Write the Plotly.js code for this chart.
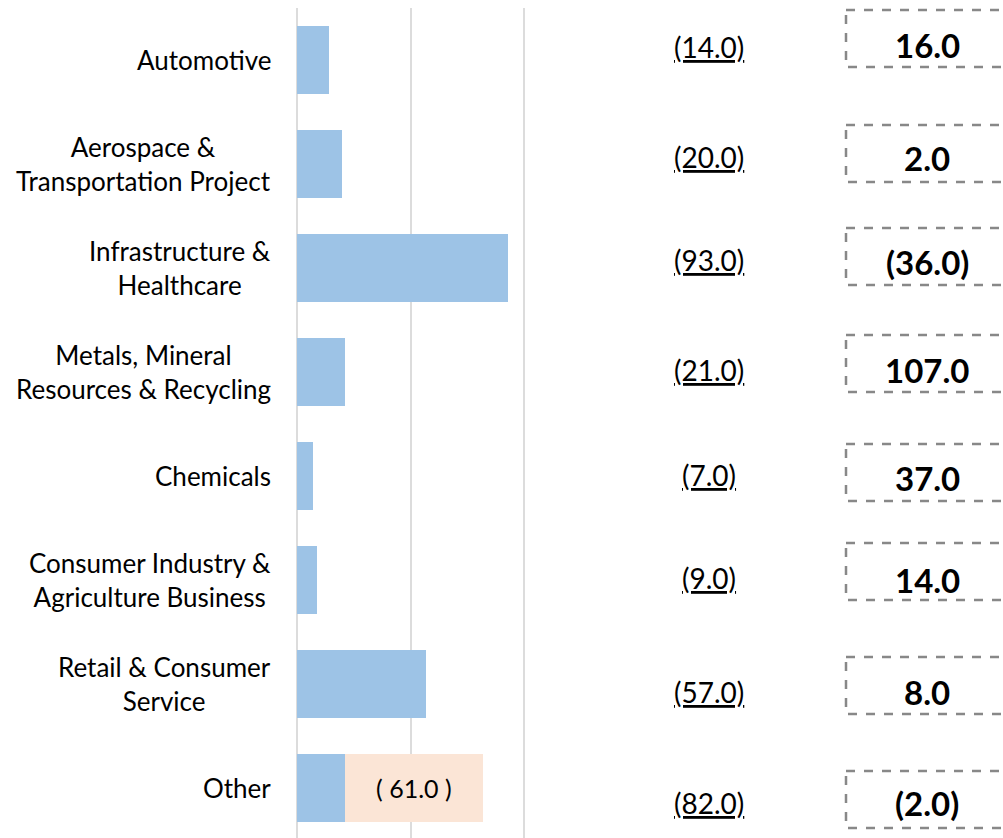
<!DOCTYPE html>
<html>
<head>
<meta charset="utf-8">
<script src="https://cdn.plot.ly/plotly-3.0.1.min.js"></script>
<style>html,body{margin:0;padding:0;background:#fff;}#chart{width:1003px;height:838px;}</style>
</head>
<body>
<div id="chart"></div>
<script>
// ---- data ----
var categories = [
  'Automotive',
  'Aerospace &<br>Transportation Project',
  'Infrastructure &<br>Healthcare',
  'Metals, Mineral<br>Resources & Recycling',
  'Chemicals',
  'Consumer Industry &<br>Agriculture Business',
  'Retail & Consumer<br>Service',
  'Other'
];
var blueValues  = [14, 20, 93, 21, 7, 9, 57, 21];
var peachValues = [0, 0, 0, 0, 0, 0, 0, 61];
var boxValues   = [16, 2, -36, 107, 37, 14, 8, -2];
var gridTicks   = [0, 50, 100];

// ---- layout helpers (pixel -> paper) ----
var W = 1003, H = 838, ML = 297, MT = 8, MB = 0;
var plotW = W - ML, plotH = H - MT - MB;
function px(x) { return (x - ML) / plotW; }
function py(y) { return 1 - (y - MT) / plotH; }

var midTextY = [47, 157, 260, 370, 475, 578, 692, 803];
var boxTextY = [45, 158, 262, 370, 478, 580, 692, 803];
var boxTop   = [10, 125, 228, 335, 444, 543, 657, 771];
var boxBot   = [67, 182, 285, 392, 501, 600, 714, 828];

function fmtNeg(v) { return v < 0 ? '(' + Math.abs(v).toFixed(1) + ')' : v.toFixed(1); }

var FONT = "Lato, 'Open Sans', sans-serif";
var xScale = 227 / 100; // px per unit
var xMax = plotW / xScale;

var totals = blueValues.map(function (v, i) { return v + peachValues[i]; });

var traces = [
  {
    type: 'bar', orientation: 'h', y: categories, x: blueValues,
    marker: { color: '#9dc3e6' }, width: 0.66, hoverinfo: 'skip', showlegend: false
  },
  {
    type: 'bar', orientation: 'h', y: categories, x: peachValues,
    marker: { color: '#fbe5d6' }, width: 0.66, hoverinfo: 'skip', showlegend: false,
    text: peachValues.map(function (v) { return v ? '( ' + v.toFixed(1) + ' )' : ''; }),
    textposition: 'inside', insidetextanchor: 'middle', constraintext: 'none',
    textfont: { family: FONT, size: 25, color: '#000' }
  }
];

var annotations = [];
var shapes = [];
categories.forEach(function (c, i) {
  // category label (centered lines, right-aligned block)
  annotations.push({
    xref: 'paper', yref: 'y', x: px(273), y: c,
    xanchor: 'right', yanchor: 'middle', align: 'center', showarrow: false,
    text: c, font: { family: FONT, size: 26, color: '#000' }
  });
  annotations.push({
    xref: 'paper', yref: 'paper', x: px(709), y: py(midTextY[i]),
    xanchor: 'center', yanchor: 'middle', showarrow: false,
    text: '<u>' + fmtNeg(-totals[i]) + '</u>',
    font: { family: FONT, size: 28, color: '#000' }
  });
  annotations.push({
    xref: 'paper', yref: 'paper', x: px(927), y: py(boxTextY[i]),
    xanchor: 'center', yanchor: 'middle', showarrow: false,
    text: '<b>' + fmtNeg(boxValues[i]) + '</b>',
    font: { family: FONT, size: 33, color: '#000' }
  });
  shapes.push({
    type: 'rect', xref: 'paper', yref: 'paper',
    x0: px(846), x1: px(1012), y0: py(boxTop[i]), y1: py(boxBot[i]),
    line: { color: '#888888', width: 2.5, dash: 'dash' }, fillcolor: 'rgba(0,0,0,0)'
  });
});

var layout = {
  width: W, height: H,
  margin: { l: ML, r: 0, t: MT, b: MB, pad: 0 },
  paper_bgcolor: '#fff', plot_bgcolor: '#fff',
  barmode: 'stack', showlegend: false,
  font: { family: FONT, color: '#000' },
  xaxis: {
    range: [0, xMax], tickvals: gridTicks, showticklabels: false,
    showgrid: true, gridcolor: '#dcdcdc', gridwidth: 2,
    zeroline: true, zerolinecolor: '#dcdcdc', zerolinewidth: 2,
    showline: false, fixedrange: true
  },
  yaxis: {
    type: 'category', range: [7.48, -0.5], autorange: false,
    showgrid: false, zeroline: false, showline: false, ticks: '',
    showticklabels: false, fixedrange: true
  },
  annotations: annotations,
  shapes: shapes
};

Plotly.newPlot('chart', traces, layout, { displayModeBar: false, staticPlot: true });
</script>
</body>
</html>
